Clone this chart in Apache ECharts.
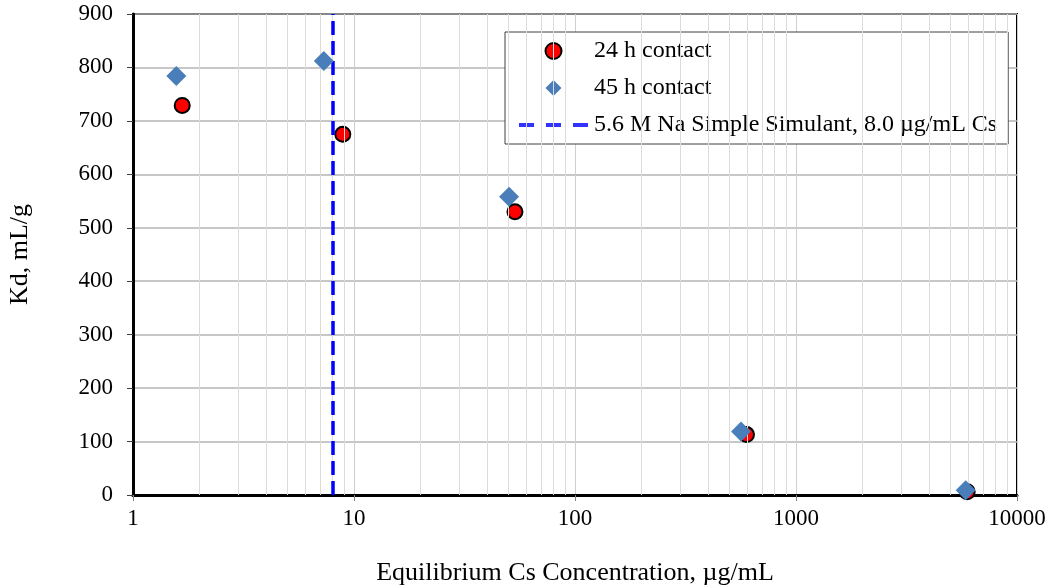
<!DOCTYPE html>
<html>
<head>
<meta charset="utf-8">
<title>Kd vs Equilibrium Cs Concentration</title>
<script src="https://cdn.jsdelivr.net/npm/echarts@6/dist/echarts.min.js"></script>
<style>
  html, body { margin: 0; padding: 0; background: #ffffff; }
  #chart { width: 1050px; height: 588px; }
</style>
</head>
<body>
<div id="chart"></div>
<script>
// Equilibrium Cs concentration (µg/mL) and Kd (mL/g) after 24 h contact
const cs24h = [1.67, 8.9, 53.5, 597, 5950];
const kd24h = [729, 675, 530, 113, 6];

// Equilibrium Cs concentration (µg/mL) and Kd (mL/g) after 45 h contact
const cs45h = [1.57, 7.3, 50.3, 564, 5860];
const kd45h = [784, 812, 558, 119, 9];

// Cs level of the simulant (µg/mL), drawn as a vertical reference line
const simulantCs = 8.0;

// Series names
const seriesNames = ['24 h contact', '45 h contact', '5.6 M Na Simple Simulant, 8.0 µg/mL Cs'];

// Minor log gridlines between the decades
const minorGridValues = [
  2, 3, 4, 5, 6, 7, 8, 9,
  20, 30, 40, 50, 60, 70, 80, 90,
  200, 300, 400, 500, 600, 700, 800, 900,
  2000, 3000, 4000, 5000, 6000, 7000, 8000, 9000
];

const FONT = '"Liberation Serif", "Times New Roman", serif';
// legend keys drawn as paths so they keep their proportions inside the key box
const DASH_ICON = 'path://M0,0h15v4h-15z M27,0h15v4h-15z M54,0h15v4h-15z';
const DIAMOND_ICON = 'path://M8,0L16,8L8,16L0,8Z';

const chart = echarts.init(document.getElementById('chart'), null, { renderer: 'canvas' });

chart.setOption({
  backgroundColor: '#ffffff',
  animation: false,
  textStyle: { fontFamily: FONT, color: '#000' },
  grid: {
    left: 133, right: 33, top: 14, bottom: 93,
    show: true, borderColor: '#000', borderWidth: 2,
    backgroundColor: '#ffffff',
    containLabel: false,
    outerBoundsMode: 'none'
  },
  legend: {
    orient: 'vertical',
    left: 505, top: 32,
    data: [
      { name: seriesNames[0], icon: 'circle' },
      { name: seriesNames[1], icon: DIAMOND_ICON },
      { name: seriesNames[2], icon: DASH_ICON }
    ],
    symbolKeepAspect: true,
    itemWidth: 69, itemHeight: 16, itemGap: 13,
    padding: [7, 11, 7, 14],
    backgroundColor: '#ffffff',
    borderColor: '#404040', borderWidth: 1,
    borderRadius: 0,
    textStyle: { fontFamily: FONT, fontSize: 24, color: '#000', padding: [0, 0, 0, 1] }
  },
  xAxis: {
    type: 'log', logBase: 10, min: 1, max: 10000,
    name: 'Equilibrium Cs Concentration, µg/mL',
    nameLocation: 'middle', nameGap: 65,
    nameTextStyle: { fontFamily: FONT, fontSize: 26, color: '#000' },
    axisLine: { show: true, onZero: false, lineStyle: { color: '#000', width: 3 } },
    axisTick: { show: true, inside: false, length: 6, lineStyle: { color: '#808080', width: 1 } },
    axisLabel: {
      fontFamily: FONT, fontSize: 23, color: '#000', margin: 12,
      formatter: v => String(Math.round(v))
    },
    splitLine: { show: true, lineStyle: { color: '#cfcfcf', width: 1 } },
    minorTick: { show: false },
    minorSplitLine: { show: false }
  },
  yAxis: {
    type: 'value', min: 0, max: 900, interval: 100,
    name: 'Kd, mL/g',
    nameLocation: 'middle', nameGap: 100, nameRotate: 90,
    nameTextStyle: { fontFamily: FONT, fontSize: 26, color: '#000' },
    axisLine: { show: true, onZero: false, lineStyle: { color: '#000', width: 3 } },
    axisTick: { show: true, inside: false, length: 6, lineStyle: { color: '#404040', width: 1 } },
    axisLabel: { fontFamily: FONT, fontSize: 23, color: '#000', margin: 20 },
    splitLine: { show: true, lineStyle: { color: '#b4b4b4', width: 1.5 } }
  },
  series: [
    {
      // minor gridlines of the log axis
      name: 'minor-grid',
      type: 'scatter',
      data: [],
      silent: true,
      z: 1,
      markLine: {
        silent: true,
        symbol: ['none', 'none'],
        label: { show: false },
        emphasis: { disabled: true },
        lineStyle: { color: '#dcdcdc', width: 1, type: 'solid' },
        data: minorGridValues.map(v => ({ xAxis: v }))
      }
    },
    {
      name: seriesNames[2],
      type: 'scatter',
      data: [],
      z: 3,
      itemStyle: { color: '#0000ff' },
      markLine: {
        silent: true,
        symbol: ['none', 'none'],
        label: { show: false },
        emphasis: { disabled: true },
        lineStyle: { color: '#0000ff', width: 3.5, type: [14, 6], opacity: 1 },
        data: [{ xAxis: simulantCs }]
      }
    },
    {
      name: seriesNames[0],
      type: 'scatter',
      data: cs24h.map((x, i) => [x, kd24h[i]]),
      symbol: 'circle',
      symbolSize: 15,
      z: 4,
      itemStyle: { color: '#ff0000', borderColor: '#000', borderWidth: 2, opacity: 1 }
    },
    {
      name: seriesNames[1],
      type: 'scatter',
      data: cs45h.map((x, i) => [x, kd45h[i]]),
      symbol: 'diamond',
      symbolSize: 20,
      z: 5,
      itemStyle: { color: '#4a7ebb', opacity: 1 }
    }
  ]
});
</script>
</body>
</html>
